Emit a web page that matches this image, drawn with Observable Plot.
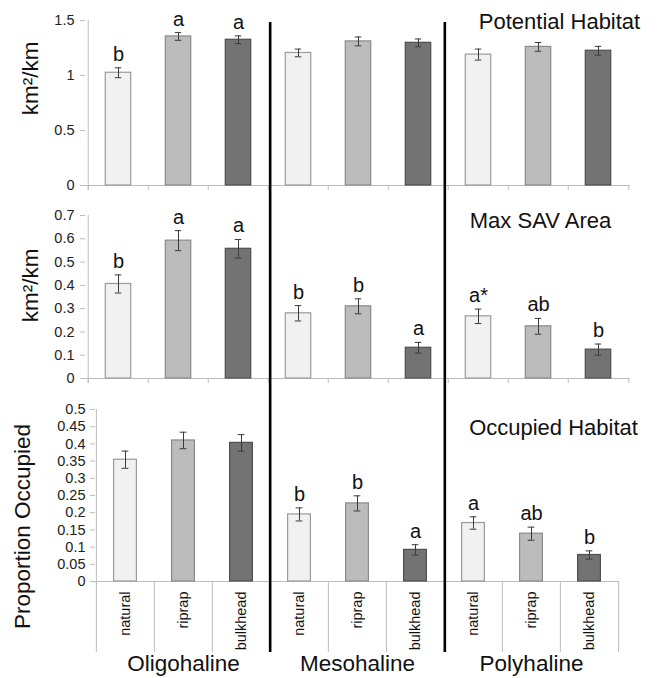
<!DOCTYPE html>
<html>
<head>
<meta charset="utf-8">
<script src="https://cdn.jsdelivr.net/npm/d3@7"></script>
<script src="https://cdn.jsdelivr.net/npm/@observablehq/plot@0.6"></script>
<style>
  html, body { margin: 0; padding: 0; background: #fff; }
  #wrap { position: relative; width: 661px; height: 678px; font-family: "Liberation Sans", Arial, sans-serif; }
  #wrap > svg { display: block; }
  #overlay { position: absolute; left: 0; top: 0; pointer-events: none; }
</style>
</head>
<body>
<div id="wrap"></div>
<script>
// ---------- data ----------
const types = ["natural", "riprap", "bulkhead"];
const groups = ["Oligohaline", "Mesohaline", "Polyhaline"];

// Potential Habitat (km2/km)
const potentialMean = [1.025, 1.355, 1.325, 1.205, 1.31, 1.297, 1.19, 1.26, 1.225];
const potentialErr  = [0.045, 0.035, 0.035, 0.035, 0.04, 0.035, 0.05, 0.04, 0.04];
const potentialLetters = ["b", "a", "a", "", "", "", "", "", ""];
const potentialTicks = [0, 0.5, 1, 1.5];

// Max SAV Area (km2/km)
const maxSavMean = [0.406, 0.592, 0.557, 0.28, 0.31, 0.132, 0.267, 0.224, 0.124];
const maxSavErr  = [0.039, 0.043, 0.04, 0.033, 0.032, 0.023, 0.031, 0.034, 0.024];
const maxSavLetters = ["b", "a", "a", "b", "b", "a", "a*", "ab", "b"];
const maxSavTicks = [0, 0.1, 0.2, 0.3, 0.4, 0.5, 0.6, 0.7];

// Occupied Habitat (proportion occupied)
const occupiedMean = [0.354, 0.41, 0.403, 0.195, 0.227, 0.092, 0.17, 0.139, 0.077];
const occupiedErr  = [0.025, 0.024, 0.024, 0.019, 0.022, 0.015, 0.018, 0.019, 0.012];
const occupiedLetters = ["", "", "", "b", "b", "a", "a", "ab", "b"];
const occupiedTicks = [0, 0.05, 0.1, 0.15, 0.2, 0.25, 0.3, 0.35, 0.4, 0.45, 0.5];

// ---------- styling ----------
const FONT = "Liberation Sans, Arial, sans-serif";
const fillColors = {natural: "#f1f1f1", riprap: "#bcbcbc", bulkhead: "#737373"};
const strokeColors = {natural: "#9a9a9a", riprap: "#8a8a8a", bulkhead: "#4f4f4f"};
const axisGray = "#bdbdbd";
const W = 661;

const cats = groups.flatMap(g => types.map(t => `${g}|${t}`));

function rows(mean, err, letters) {
  return cats.map((key, i) => ({
    key, group: key.split("|")[0], type: key.split("|")[1],
    mean: mean[i], err: err[i], letter: letters[i]
  }));
}

function panel(o) {
  const data = rows(o.mean, o.err, o.letters);
  const frameH = o.height - o.mt - o.mb;
  const bw = (W - o.ml - o.mr) / cats.length;
  const barInset = (bw - o.barW) / 2;
  const capInset = (bw - 7) / 2;
  const marks = [
    Plot.ruleY([0], {stroke: axisGray, strokeWidth: 1}),
    Plot.ruleX([cats[0]], {dx: -bw / 2, stroke: axisGray, insetBottom: -5}),
    Plot.ruleX(cats.slice(1), {dx: -bw / 2, stroke: axisGray, insetTop: frameH, insetBottom: -o.sepLen}),
    Plot.ruleX([cats[cats.length - 1]], {dx: bw / 2, stroke: axisGray, insetTop: frameH, insetBottom: -o.sepLen}),
    Plot.ruleX([cats[0]], {dx: -bw / 2, stroke: axisGray, insetTop: frameH, insetBottom: -o.sepLen}),
    Plot.axisY({
      ticks: o.ticks, tickFormat: d3.format("~g"), tickSize: 5, tickPadding: o.tickPad,
      stroke: axisGray, fill: "#222", fontSize: 14.5, label: null
    }),
    Plot.barY(data, {
      x: "key", y: "mean",
      fill: d => fillColors[d.type], stroke: d => strokeColors[d.type], strokeWidth: 1.2,
      insetLeft: barInset, insetRight: barInset
    }),
    Plot.ruleX(data, {x: "key", y1: d => d.mean - d.err, y2: d => d.mean + d.err, stroke: "#3a3a3a", strokeWidth: 1}),
    Plot.tickY(data, {x: "key", y: d => d.mean - d.err, stroke: "#3a3a3a", strokeWidth: 1, insetLeft: capInset, insetRight: capInset}),
    Plot.tickY(data, {x: "key", y: d => d.mean + d.err, stroke: "#3a3a3a", strokeWidth: 1, insetLeft: capInset, insetRight: capInset}),
    Plot.text(data.filter(d => d.letter), {
      x: "key", y: d => d.mean + d.err, text: "letter",
      lineAnchor: "bottom", dy: -7, fontSize: 20, fill: "#111"
    }),
    Plot.text([o.title], {
      frameAnchor: "top-left", dx: o.titleDx, dy: o.titleDy, text: d => d,
      textAnchor: "middle", lineAnchor: "bottom", fontSize: 22, fill: "#111"
    }),
    Plot.text([o.ylabel], {
      frameAnchor: "top-left", dx: o.ylDx, dy: o.ylDy, text: d => d, rotate: -90,
      textAnchor: "middle", lineAnchor: "middle", fontSize: 22.5, fill: "#111"
    })
  ];
  if (o.bottom) {
    marks.push(
      Plot.axisX({
        tickRotate: -90, tickSize: 0, tickPadding: 10, fontSize: 14.5, fill: "#111",
        tickFormat: d => d.split("|")[1], label: null
      }),
      Plot.text(groups, {
        x: g => `${g}|${types[1]}`, frameAnchor: "bottom", text: d => d,
        lineAnchor: "bottom", dy: 89, fontSize: 22.5, fill: "#111"
      })
    );
  }
  return Plot.plot({
    width: W, height: o.height,
    marginTop: o.mt, marginBottom: o.mb, marginLeft: o.ml, marginRight: o.mr,
    style: {fontFamily: FONT, background: "transparent", overflow: "visible"},
    x: {type: "band", domain: cats, padding: 0, axis: null},
    y: {domain: [0, o.yMax], axis: null},
    marks
  });
}

const wrap = document.getElementById("wrap");

wrap.appendChild(panel({
  mean: potentialMean, err: potentialErr, letters: potentialLetters, ticks: potentialTicks,
  yMax: 1.5, height: 200, mt: 20, mb: 15, ml: 85, mr: 31, barW: 26, sepLen: 5, tickPad: 6,
  title: "Potential Habitat", titleDx: 474, titleDy: 8,
  ylabel: "km²/km", ylDx: -55, ylDy: 58
}));

wrap.appendChild(panel({
  mean: maxSavMean, err: maxSavErr, letters: maxSavLetters, ticks: maxSavTicks,
  yMax: 0.7, height: 195, mt: 15, mb: 17, ml: 85, mr: 31, barW: 26, sepLen: 5, tickPad: 6,
  title: "Max SAV Area", titleDx: 455, titleDy: 12,
  ylabel: "km²/km", ylDx: -55, ylDy: 70
}));

wrap.appendChild(panel({
  mean: occupiedMean, err: occupiedErr, letters: occupiedLetters, ticks: occupiedTicks,
  yMax: 0.5, height: 283, mt: 14, mb: 97, ml: 95, mr: 42, barW: 23, sepLen: 71, tickPad: 5,
  title: "Occupied Habitat", titleDx: 458, titleDy: 25,
  ylabel: "Proportion Occupied", ylDx: -73, ylDy: 117,
  bottom: true
}));

const groupBoundaries = groups.slice(1).map((g, i) => (i + 1) * types.length);
const overlay = Plot.plot({
  width: W, height: 678,
  marginTop: 22, marginBottom: 26, marginLeft: 95, marginRight: 42,
  style: {background: "transparent", overflow: "visible"},
  x: {domain: [0, cats.length], axis: null},
  marks: [Plot.ruleX(groupBoundaries, {stroke: "#000", strokeWidth: 2.6})]
});
overlay.id = "overlay";
wrap.appendChild(overlay);
</script>
</body>
</html>
